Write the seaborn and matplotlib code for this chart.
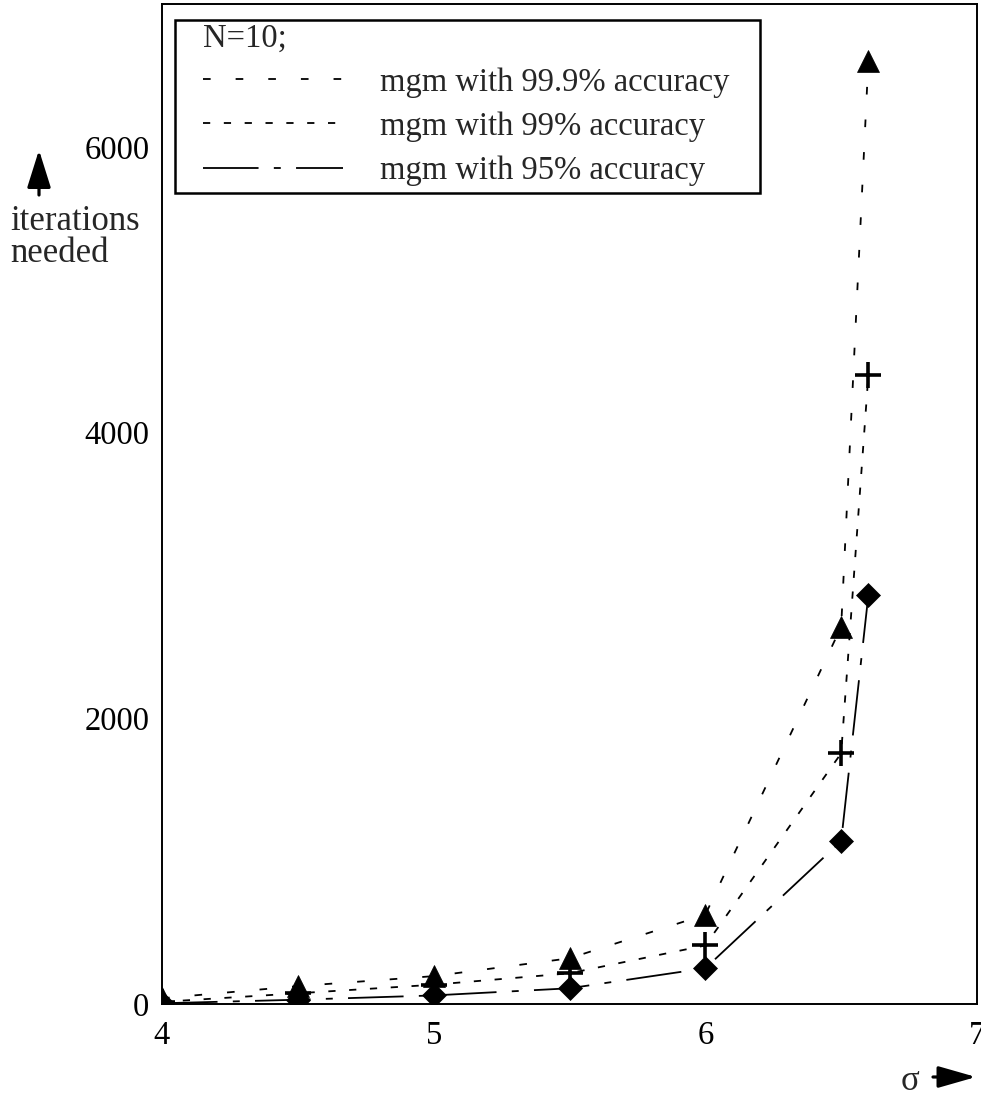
import numpy as np
import pandas as pd
import matplotlib
matplotlib.use("Agg")
import matplotlib.pyplot as plt
import seaborn as sns
from matplotlib.lines import Line2D
from matplotlib.patches import FancyArrowPatch, Rectangle

# sigma values and iteration counts for each accuracy level
sigma = [4.0, 4.5, 5.0, 5.5, 6.0, 6.5, 6.6]
iters_999 = [40, 125, 195, 320, 625, 2640, 6600]
iters_99 = [15, 75, 135, 215, 410, 1755, 4400]
iters_95 = [5, 30, 60, 110, 250, 1140, 2860]

labels = ["mgm with 99.9% accuracy", "mgm with 99% accuracy", "mgm with 95% accuracy"]
x_ticks = [4, 5, 6, 7]
y_ticks = [0, 2000, 4000, 6000]

sns.set_theme(style="white")
plt.rcParams["font.family"] = ["Liberation Serif", "DejaVu Serif"]
plt.rcParams["lines.scale_dashes"] = False

FS = 23.5

fig = plt.figure(figsize=(9.81, 10.95), dpi=100)
ax = fig.add_axes([162 / 981, 1 - 1004 / 1095, 815 / 981, 1000 / 1095])

df = pd.DataFrame({
    "sigma": sigma * 3,
    "iters": iters_999 + iters_99 + iters_95,
    "series": [labels[0]] * len(sigma) + [labels[1]] * len(sigma) + [labels[2]] * len(sigma),
})

styles = {
    labels[0]: dict(linestyle=(0, (5.5, 18.0)), marker="^", markersize=16, mew=0.5),
    labels[1]: dict(linestyle=(0, (5.2, 9.8)), marker="+", markersize=19, mew=2.6),
    labels[2]: dict(linestyle=(0, (40, 11, 5, 11)), marker="D", markersize=12, mew=0.5),
}

for lab in labels:
    st = styles[lab]
    sub = df[df["series"] == lab]
    sns.lineplot(data=sub, x="sigma", y="iters", ax=ax, color="black",
                 linewidth=1.3, linestyle=st["linestyle"], marker=st["marker"],
                 markersize=st["markersize"], markeredgecolor="black",
                 markerfacecolor="black", markeredgewidth=st["mew"],
                 legend=False, zorder=3)

ax.set_xlim(4, 7)
ax.set_ylim(0, 7000)
ax.set_xticks(x_ticks)
ax.set_yticks(y_ticks)
ax.set_xticklabels([str(t) for t in x_ticks])
ax.set_yticklabels([str(t) for t in y_ticks])
ax.tick_params(axis="x", length=0, pad=12, labelsize=FS, colors="black")
ax.tick_params(axis="y", length=0, pad=9, labelsize=FS, colors="black")
ax.set_xlabel("")
ax.set_ylabel("")
for sp in ax.spines.values():
    sp.set_color("black")
    sp.set_linewidth(1.4)

# legend box frame drawn separately so the padding can be uneven
ax.add_patch(Rectangle((0.016, 0.811), 0.718, 0.173, transform=ax.transAxes,
                       fill=True, facecolor="white", edgecolor="black",
                       linewidth=1.8, zorder=4))

handles = [Line2D([], [], color="black", linewidth=1.3, linestyle=styles[l]["linestyle"])
           for l in labels]
leg = ax.legend(handles, labels, title="N=10;", loc="upper left",
                bbox_to_anchor=(0.050, 0.981), fontsize=FS, title_fontsize=FS,
                handlelength=4.3, handletextpad=1.13, labelspacing=0.42,
                borderpad=0, fancybox=False, frameon=False, alignment="left",
                borderaxespad=0)
leg.set_zorder(5)

# axis captions with arrows
fig.text(10 / 981, 1 - 205 / 1095, "iterations\nneeded", ha="left", va="top",
         fontsize=25, linespacing=0.95)
fig.add_artist(FancyArrowPatch(
    (39 / 981, 1 - 195 / 1095), (39 / 981, 1 - 150 / 1095),
    transform=fig.transFigure, arrowstyle="-|>,head_length=1.05,head_width=0.33",
    mutation_scale=22, color="black", linewidth=2.3, shrinkA=0, shrinkB=0))

fig.text(910 / 981, 1 - 1082 / 1095, "σ", ha="center", va="center", fontsize=25)
fig.add_artist(FancyArrowPatch(
    (933 / 981, 1 - 1077 / 1095), (976 / 981, 1 - 1077 / 1095),
    transform=fig.transFigure, arrowstyle="-|>,head_length=1.05,head_width=0.3",
    mutation_scale=22, color="black", linewidth=2.3, shrinkA=0, shrinkB=0))

fig.savefig("out.png", dpi=100)
